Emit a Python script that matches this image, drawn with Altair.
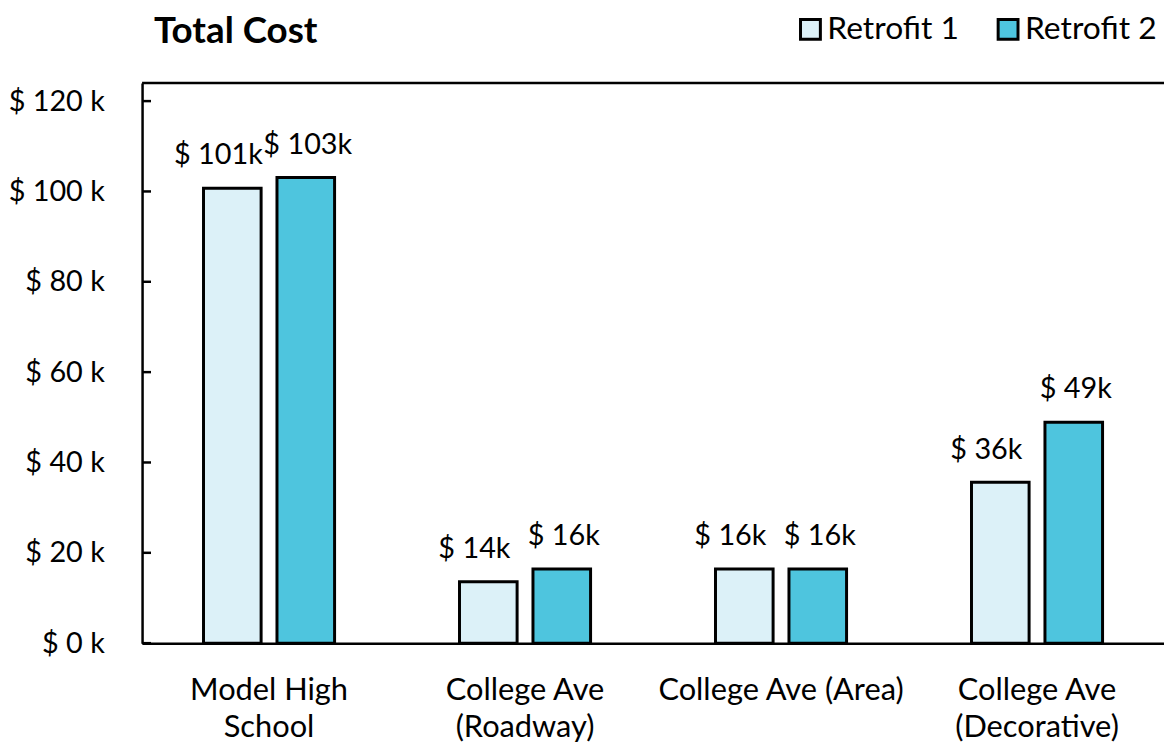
import altair as alt
import pandas as pd

title_text = ["Total Cost"]
sites = ["Model High|School", "College Ave|(Roadway)", "College Ave (Area)", "College Ave|(Decorative)"]
series = ["Retrofit 1", "Retrofit 2"]
retrofit1 = [100.7, 13.6, 16.4, 35.6]
retrofit2 = [103.1, 16.4, 16.4, 48.9]
y_ticks = [0, 20, 40, 60, 80, 100, 120]
colors = ["#DCF1F8", "#4EC5DE"]

rows = []
for i, s in enumerate(sites):
    rows.append({"site": s, "series": series[0], "value": retrofit1[i]})
    rows.append({"site": s, "series": series[1], "value": retrofit2[i]})
df = pd.DataFrame(rows)
ticks_df = pd.DataFrame({"tick": y_ticks})
frame_df = pd.DataFrame({"k": [0]})
title_df = pd.DataFrame({"t": title_text})

W, H = 1029, 564
FONT = "Lato"

yscale = alt.Scale(domain=[0, 124], nice=False, zero=True)
xenc = alt.X(
    "site:N", sort=sites, title=None,
    scale=alt.Scale(paddingInner=0.488, paddingOuter=0.24, round=False),
    axis=alt.Axis(labelExpr="split(datum.label, '|')", labelAngle=0, ticks=False,
                  domainColor="black", domainWidth=2.5, labelFontSize=31, labelFont=FONT,
                  labelColor="black", labelPadding=33, labelLineHeight=37, labelBaseline="top",
                  labelLimit=0),
)
xoff = alt.XOffset("series:N", sort=series, scale=alt.Scale(paddingInner=0.216, paddingOuter=0, round=False))
yenc = alt.Y(
    "value:Q", scale=yscale, title=None,
    axis=alt.Axis(values=y_ticks, labelExpr="'$ ' + datum.value + ' k'", ticks=False,
                  domainColor="black", domainWidth=2.5, labelFontSize=29, labelFont=FONT,
                  labelColor="black", labelPadding=38, grid=False),
)

bars = alt.Chart(df).mark_bar(stroke="black", strokeWidth=3).encode(
    x=xenc, xOffset=xoff, y=yenc,
    color=alt.Color(
        "series:N", sort=series,
        scale=alt.Scale(domain=series, range=colors),
        legend=alt.Legend(orient="none", legendX=657, legendY=-70, direction="horizontal",
                          title=None, symbolType="square", symbolSize=400,
                          symbolStrokeColor="black", symbolStrokeWidth=3,
                          labelFontSize=32, labelFont=FONT, labelColor="black",
                          labelOffset=1, columnPadding=33, padding=0, labelLimit=0),
    ),
)

def label_layer(name, shift):
    return alt.Chart(df).transform_filter(
        alt.datum.series == name
    ).transform_calculate(
        lbl="'$ ' + format(datum.value, '.0f') + 'k'"
    ).mark_text(dy=-33, dx=shift, baseline="middle", fontSize=29, font=FONT, color="black").encode(
        x=xenc, xOffset=xoff, y=yenc, text="lbl:N"
    )

labels1 = label_layer(series[0], -14)
labels2 = label_layer(series[1], 2)

tickmarks = alt.Chart(ticks_df).mark_rule(color="black", strokeWidth=2.5).encode(
    y=alt.Y("tick:Q", scale=yscale, title=None), x=alt.value(0), x2=alt.value(9)
)

topline = alt.Chart(frame_df).mark_rule(color="black", strokeWidth=2.5).encode(
    x=alt.value(0), x2=alt.value(W), y=alt.value(0)
)

title = alt.Chart(title_df).mark_text(
    align="left", baseline="middle", font=FONT, fontSize=37, fontWeight="bold", color="black"
).encode(x=alt.value(12), y=alt.value(-51), text="t:N")

chart = alt.layer(bars, labels1, labels2, tickmarks, topline, title).properties(
    width=W, height=H,
    autosize=alt.AutoSizeParams(type="none"),
    padding={"left": 135, "top": 73, "right": 0, "bottom": 101},
).configure_view(stroke=None)

chart.save("out.html", embed_options={"renderer": "svg", "actions": False})
